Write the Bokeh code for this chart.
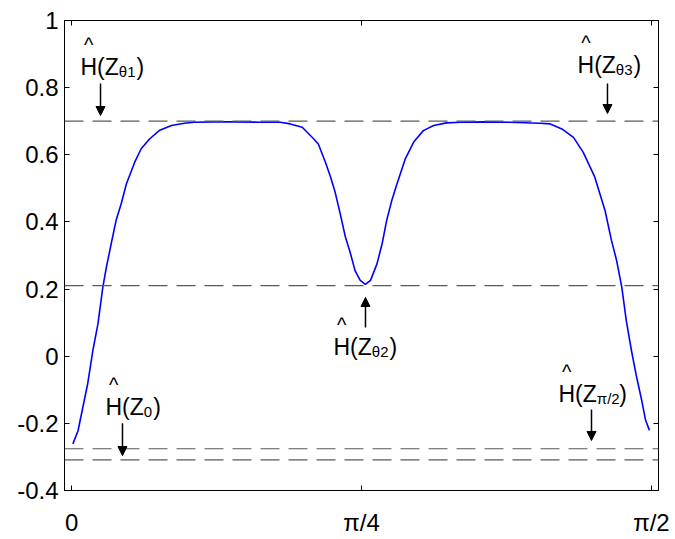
from bokeh.plotting import figure
from bokeh.models import (Range1d, FixedTicker, LinearAxis, Span, Arrow,
                          NormalHead, ColumnDataSource)
from bokeh.core.properties import value
from bokeh.embed import file_html
from bokeh.resources import INLINE

# ---------------- data ----------------
# angle in degrees (0 .. 90  <->  0 .. pi/2)
theta_deg = [0.2, 1.0, 1.75, 2.5, 3.3, 4.1, 4.85, 5.4, 6.15, 6.9, 7.7, 8.5, 9.8,
             10.8, 12.1, 13.6, 15.5, 17.5, 19.0, 22.0, 25.0, 29.3, 32.4, 33.95,
             35.8, 37.6, 38.3, 39.4, 40.2, 40.9, 41.7, 42.5, 43.3, 44.0, 44.8,
             45.6, 46.4, 47.4, 48.2, 48.9, 49.7, 50.5, 51.8, 53.1, 54.6, 56.2,
             58.2, 60.3, 64.0, 68.0, 72.7, 74.3, 76.1, 77.9, 79.4, 81.2, 82.8,
             83.8, 84.6, 85.4, 86.1, 86.9, 87.7, 88.5, 89.1, 89.7]
h_values = [-0.261, -0.222, -0.152, -0.082, 0.017, 0.097, 0.206, 0.265, 0.335,
            0.404, 0.454, 0.513, 0.578, 0.618, 0.647, 0.672, 0.687, 0.694, 0.697,
            0.698, 0.698, 0.697, 0.697, 0.692, 0.682, 0.647, 0.632, 0.578, 0.534,
            0.489, 0.424, 0.355, 0.305, 0.255, 0.226, 0.214, 0.226, 0.275, 0.335,
            0.404, 0.464, 0.513, 0.588, 0.638, 0.672, 0.687, 0.695, 0.697, 0.698,
            0.697, 0.694, 0.692, 0.677, 0.652, 0.608, 0.534, 0.434, 0.345, 0.285,
            0.206, 0.106, 0.017, -0.062, -0.132, -0.191, -0.221]

# reference levels (dashed lines)
ref_levels = [0.700, 0.2105, -0.2757, -0.309]

# tick labels
x_ticks = [0, 45, 90]
x_tick_labels = ["0", "π/4", "π/2"]
y_ticks = [-0.4, -0.2, 0.0, 0.2, 0.4, 0.6, 0.8, 1.0]
y_tick_labels = ["-0.4", "-0.2", "0", "0.2", "0.4", "0.6", "0.8", "1"]

# annotations: H^(Z_sub) labels and their arrows
ann_sub = ["θ1", "θ3", "θ2", "0", "π/2"]
ann_x0 = [1.38, 78.53, 40.65, 5.26, 75.58]
ann_y0 = [0.836, 0.842, 0.002, -0.177, -0.138]
arrow_x = [4.49, 83.18, 45.62, 7.90, 80.70]
arrow_y_start = [0.812, 0.812, 0.0855, -0.200, -0.159]
arrow_y_end = [0.717, 0.723, 0.175, -0.296, -0.251]

# ---------------- figure ----------------
X0, X1 = -1.1, 91.1
Y0, Y1 = -0.4, 1.0
FW, FH = 594, 470
DEG_PER_PX = (X1 - X0) / FW
VAL_PER_PX = (Y1 - Y0) / FH

FONT = "Liberation Sans"

p = figure(frame_width=FW, frame_height=FH,
           x_range=Range1d(X0, X1), y_range=Range1d(Y0, Y1),
           output_backend="svg", toolbar_location=None,
           min_border_left=64, min_border_right=17,
           min_border_top=20, min_border_bottom=48)
p.grid.visible = False
p.outline_line_color = "black"
p.outline_line_width = 1
p.background_fill_color = "white"
p.border_fill_color = "white"

def style_axis(ax, ticks, labels=None, hidden=False):
    ax.ticker = FixedTicker(ticks=ticks, minor_ticks=[])
    ax.major_tick_in = 5
    ax.major_tick_out = 0
    ax.minor_tick_in = 0
    ax.minor_tick_out = 0
    ax.axis_line_color = "black"
    ax.major_tick_line_color = "black"
    if hidden:
        ax.major_label_text_color = None
        ax.major_label_text_font_size = "1px"
        ax.major_label_standoff = 0
    else:
        ax.major_label_overrides = dict(zip(ticks, labels))
        ax.major_label_text_font = FONT
        ax.major_label_text_font_size = "24px"
        ax.major_label_text_color = "black"

style_axis(p.xaxis[0], x_ticks, x_tick_labels)
p.xaxis[0].major_label_standoff = 18
style_axis(p.yaxis[0], y_ticks, y_tick_labels)
p.yaxis[0].major_label_standoff = 6

top_ax = LinearAxis()
style_axis(top_ax, x_ticks, hidden=True)
p.add_layout(top_ax, "above")
right_ax = LinearAxis()
style_axis(right_ax, y_ticks, hidden=True)
p.add_layout(right_ax, "right")

# dashed reference lines
for lv in ref_levels:
    p.add_layout(Span(location=lv, dimension="width", line_color="#5a5a5a",
                      line_width=1.2, line_dash="19 9"))

# curve
p.line(theta_deg, h_values, line_color="#0000ff", line_width=1.6)

# ---------------- annotation texts ----------------
MAIN_FS = 23
SUB_FS = 15
HAT_FS = 20
TEXT_LIFT = 9  # px, baseline correction
char_w = {"θ": 0.556, "π": 0.6, "/": 0.278}
def sub_width(s):
    return sum(char_w.get(c, 0.556) for c in s) * SUB_FS

main_w = (0.722 + 0.333 + 0.611) * MAIN_FS  # "H(Z"
base_y = [y + TEXT_LIFT * VAL_PER_PX for y in ann_y0]

main_src = ColumnDataSource(dict(x=ann_x0, y=base_y, t=["H(Z"] * len(ann_x0)))
sub_src = ColumnDataSource(dict(
    x=[x + main_w * DEG_PER_PX for x in ann_x0],
    y=[y - 5 * VAL_PER_PX for y in base_y],
    t=ann_sub))
par_src = ColumnDataSource(dict(
    x=[x + (main_w + sub_width(s) + 1) * DEG_PER_PX for x, s in zip(ann_x0, ann_sub)],
    y=base_y, t=[")"] * len(ann_x0)))
hat_src = ColumnDataSource(dict(
    x=[x + 0.722 * MAIN_FS / 2 * DEG_PER_PX for x in ann_x0],
    y=[y + 22 * VAL_PER_PX for y in base_y],
    t=["^"] * len(ann_x0)))

for src, fs, align in [(main_src, MAIN_FS, "left"), (sub_src, SUB_FS, "left"),
                       (par_src, MAIN_FS, "left"), (hat_src, HAT_FS, "center")]:
    p.text(x="x", y="y", text="t", source=src, text_font=value(FONT),
           text_font_size=value(f"{fs}px"), text_color="black",
           text_align=align, text_baseline="alphabetic")

# arrows
arrow_src = ColumnDataSource(dict(x0=arrow_x, y0=arrow_y_start,
                                  x1=arrow_x, y1=arrow_y_end))
p.add_layout(Arrow(end=NormalHead(size=9, fill_color="black", line_color="black"),
                   x_start="x0", y_start="y0", x_end="x1", y_end="y1",
                   line_color="black", line_width=1.5, source=arrow_src))

open("out.html", "w").write(file_html(p, INLINE))
